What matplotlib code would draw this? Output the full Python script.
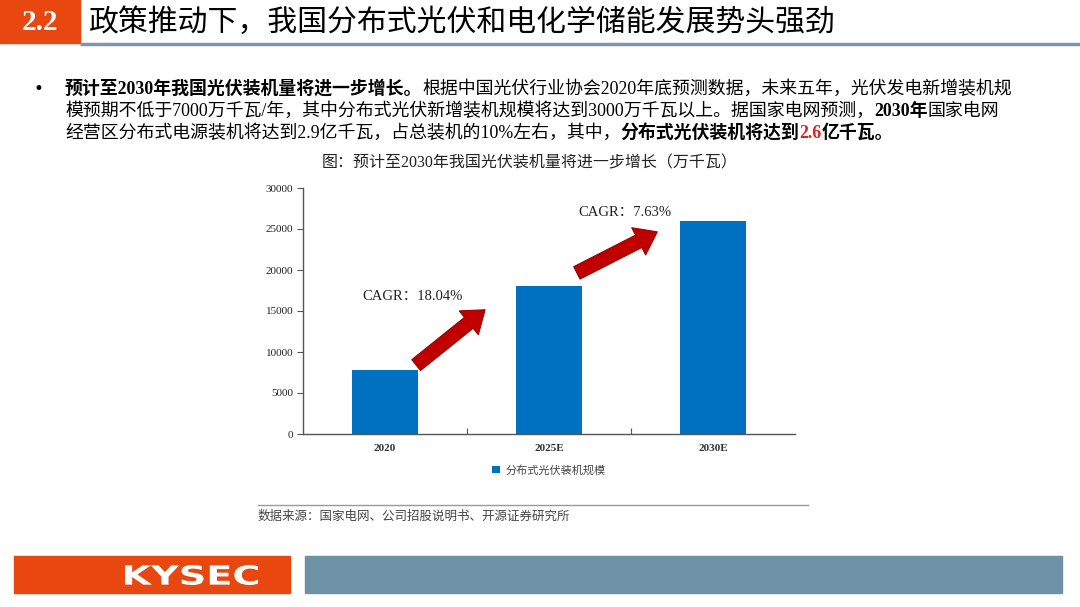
import matplotlib
matplotlib.use('Agg')
import matplotlib.pyplot as plt
from matplotlib.patches import Rectangle, FancyArrowPatch, PathPatch
from matplotlib.textpath import TextPath
from matplotlib.font_manager import FontProperties
from matplotlib.transforms import Affine2D

plt.rcParams['font.family'] = ['Liberation Serif', 'Noto Sans CJK SC', 'DejaVu Sans']

# data
years = ['2020', '2025E', '2030E']
capacity = [7850, 18000, 26000]
series_name = '分布式光伏装机规模'
cagr_labels = ['CAGR：18.04%', 'CAGR：7.63%']
yticks = [0, 5000, 10000, 15000, 20000, 25000, 30000]

title = '政策推动下，我国分布式光伏和电化学储能发展势头强劲'
chart_title = '图：预计至2030年我国光伏装机量将进一步增长（万千瓦）'
source = '数据来源：国家电网、公司招股说明书、开源证券研究所'
# bullet text: (text, bold, color) per line
bullet_lines = [
    [('预计至2030年我国光伏装机量将进一步增长。', True, 'black'),
     ('根据中国光伏行业协会2020年底预测数据，未来五年，光伏发电新增装机规', False, 'black')],
    [('模预期不低于7000万千瓦/年，其中分布式光伏新增装机规模将达到3000万千瓦以上。据国家电网预测，', False, 'black'),
     ('2030年', True, 'black'), ('国家电网', False, 'black')],
    [('经营区分布式电源装机将达到2.9亿千瓦，占总装机的10%左右，其中，', False, 'black'),
     ('分布式光伏装机将达到', True, 'black'), ('2.6', True, '#E02020'), ('亿千瓦。', True, 'black')],
]

W, H = 1080, 607
fig = plt.figure(figsize=(W / 100, H / 100), dpi=100)
fig.patch.set_facecolor('white')

# background layer in pixel coords
bg = fig.add_axes([0, 0, 1, 1], zorder=0)
bg.set_xlim(0, W)
bg.set_ylim(H, 0)
bg.axis('off')

orange = '#E8470F'
# header
bg.add_patch(Rectangle((0, 0), 80, 43, color=orange))
bg.text(40, 22, '2.2', color='white', fontsize=21, fontweight='bold',
        ha='center', va='center', family='Liberation Serif')
bg.text(88, 22, title, fontsize=21.5, ha='left', va='center',
        family=['Noto Sans CJK SC'], color='black')
bg.plot([80, W], [44, 44], color='#8197a6', lw=2.5, solid_capstyle='butt')

# bullet paragraph
renderer = fig.canvas.get_renderer()
bg.text(38, 89, '•', fontsize=12, ha='center', va='center', family='DejaVu Sans')
line_y = [89, 111, 133]
for y, segs in zip(line_y, bullet_lines):
    x = 65
    for txt, bold, col in segs:
        t = bg.text(x, y, txt, fontsize=12.9, ha='left', va='center', color=col,
                    fontweight='bold' if bold else 'normal')
        bb = t.get_window_extent(renderer)
        x += bb.width

bg.text(530, 163, chart_title, fontsize=11.5, ha='center', va='center', color='#222222')

# source
bg.plot([258, 808], [505, 505], color='#9a9a9a', lw=1)
bg.text(258, 517, source, fontsize=9, ha='left', va='center', color='#444444')

# footer
bg.add_patch(Rectangle((14, 556), 276, 37, color=orange))
bg.add_patch(Rectangle((305, 556), 757, 37, color='#6E92A5'))
# wide bold logo text, stretched to the logo box
tp = TextPath((0, 0), 'KYSEC', size=20, prop=FontProperties(family='DejaVu Sans', weight='bold'))
ext = tp.get_extents()
sx = 133 / ext.width
sy = 20 / ext.height
logo_tr = Affine2D().translate(-ext.x0, -ext.y0).scale(sx, -sy).translate(125, 585)
bg.add_patch(PathPatch(logo_tr.transform_path(tp), color='white', lw=0))

# chart
ax = fig.add_axes([303 / W, (H - 434) / H, 492 / W, 246 / H], zorder=2)
ax.patch.set_alpha(0)
x = list(range(len(years)))
ax.bar(x, capacity, width=0.4, color='#0070C0', label=series_name, zorder=2)
ax.set_xlim(-0.5, 2.5)
ax.set_ylim(0, 30000)
ax.set_yticks(yticks)
ax.set_yticklabels([str(v) for v in yticks], fontsize=8, color='#222222')
ax.set_xticks([0.5, 1.5])
ax.set_xticklabels(['', ''])
ax.tick_params(axis='x', direction='in', length=4, color='#555555')
ax.tick_params(axis='y', direction='out', length=4, color='#555555', pad=3)
for i, lab in enumerate(years):
    ax.text(i, -0.06, lab, transform=ax.get_xaxis_transform(), ha='center', va='center',
            fontsize=8, fontweight='bold', color='#333333')
for s in ['top', 'right']:
    ax.spines[s].set_visible(False)
for s in ['left', 'bottom']:
    ax.spines[s].set_color('#555555')
    ax.spines[s].set_linewidth(1)

# growth arrows between bars
arrow_style = 'simple,head_width=22,head_length=15,tail_width=10'
arrows = [((0.19, 8400), (0.61, 15150)), ((1.17, 19650), (1.66, 24650))]
for (p0, p1) in arrows:
    ax.add_patch(FancyArrowPatch(p0, p1, arrowstyle=arrow_style, mutation_scale=1,
                                 facecolor='#C00000', edgecolor='#9A0000', lw=0.8, zorder=3,
                                 shrinkA=0, shrinkB=0))
ax.text(0.17, 16830, cagr_labels[0], ha='center', va='center', fontsize=10.5, color='#222222')
ax.text(1.46, 27070, cagr_labels[1], ha='center', va='center', fontsize=10.5, color='#222222')

leg = ax.legend(loc='center', bbox_to_anchor=(0.5, -0.146), frameon=False, fontsize=8,
                handlelength=0.7, handleheight=0.7, handletextpad=0.5)
for t in leg.get_texts():
    t.set_color('#444444')

fig.savefig('out.png', dpi=100)
